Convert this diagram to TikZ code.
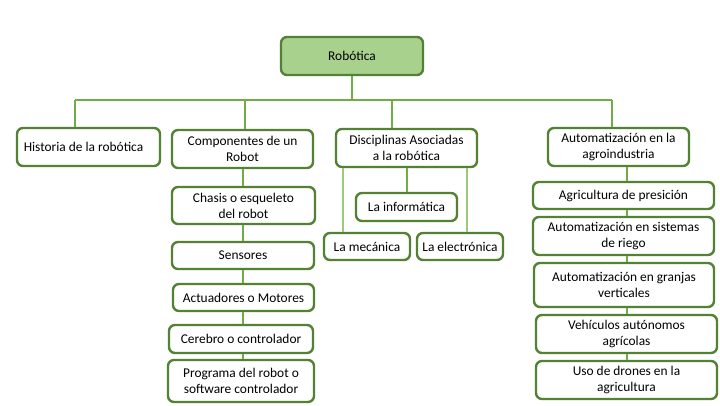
\documentclass[tikz,border=0pt]{standalone}
\usepackage{fontspec}
\setmainfont{Carlito}
\definecolor{bord}{HTML}{548235}
\definecolor{conn}{HTML}{70AD47}
\definecolor{connlt}{HTML}{9BCB7A}
\definecolor{rfill}{HTML}{A9D18E}
\tikzset{
  box/.style={draw=bord, line width=2.4pt, rounded corners=6pt, fill=white, align=center,
    inner sep=0pt, font=\fontsize{13.4}{15.8}\selectfont},
  cline/.style={draw=conn, line width=1.2pt},
  clinelt/.style={draw=connlt, line width=1.2pt}
}
\newcommand{\bx}[6]{% name, x1, y1, x2, y2, text
  \node[box, minimum width={#4-#2}, minimum height={#5-#3}] (#1) at ({(#2+#4)/2},{(#3+#5)/2}) {#6};}
\begin{document}
\begin{tikzpicture}[x=1pt,y=-1pt]
\useasboundingbox (0,0) rectangle (720,405);
\coordinate (bl) at (75,100);
\coordinate (br) at (612,100);
\coordinate (rb) at (352,100);
\coordinate (c2) at (245,100);
\coordinate (c3) at (392,100);
\coordinate (vx) at (243,0);
\coordinate (ax) at (627,0);
\coordinate (m1) at (343,0);
\coordinate (m2) at (407,0);
\coordinate (m3) at (467,0);

\node[box, fill=rfill, minimum width=142, minimum height=38] (rob) at (352,56) {Robótica};
\bx{hist}{17}{128}{160}{166}{Historia de la robótica\kern10pt}
\bx{comp}{172}{130}{313}{168}{Componentes de un\\Robot}
\bx{disc}{336}{129}{477}{167}{Disciplinas Asociadas\\a la robótica}
\bx{agro}{548}{128}{689}{166}{Automatización en la\\agroindustria}

\bx{chas}{172}{187}{315}{224}{Chasis o esqueleto\\del robot}
\bx{sens}{172}{242}{314}{269}{Sensores}
\bx{actu}{173}{284}{314}{311}{Actuadores o Motores}
\bx{cere}{169}{325}{313}{353}{Cerebro o controlador}
\bx{prog}{168}{360}{314}{402}{Programa del robot o\\software controlador}

\bx{info}{356}{193}{457}{221}{La informática}
\bx{meca}{324}{233}{410}{260}{La mecánica}
\bx{elec}{417}{233}{503}{260}{La electrónica}

\bx{agri}{533}{182}{714}{209}{Agricultura de presición}
\bx{rieg}{533}{217}{714}{255}{Automatización en sistemas\\de riego}
\bx{gran}{534}{263}{714}{307}{Automatización en granjas\\verticales}
\bx{vehi}{536}{315}{717}{353}{Vehículos autónomos\\agrícolas}
\bx{dron}{536}{361}{717}{399}{Uso de drones en la\\agricultura}

% tree connectors
\draw[cline] (rob.south) -- (rb);
\draw[cline] (bl) -- (br);
\draw[cline] (bl) -- (bl |- hist.north);
\draw[cline] (c2) -- (c2 |- comp.north);
\draw[cline] (c3) -- (c3 |- disc.north);
\draw[cline] (br) -- (br |- agro.north);
% components chain
\draw[cline] (vx |- comp.south) -- (vx |- chas.north);
\draw[cline] (vx |- chas.south) -- (vx |- sens.north);
\draw[cline] (vx |- sens.south) -- (vx |- actu.north);
\draw[cline] (vx |- actu.south) -- (vx |- cere.north);
\draw[cline] (vx |- cere.south) -- (vx |- prog.north);
% disciplines
\draw[clinelt] (m1 |- disc.south) -- (m1 |- meca.north);
\draw[cline] (m2 |- disc.south) -- (m2 |- info.north);
\draw[clinelt] (m3 |- disc.south) -- (m3 |- elec.north);
% agro chain
\draw[cline] (ax |- agro.south) -- (ax |- agri.north);
\draw[cline] (ax |- agri.south) -- (ax |- rieg.north);
\draw[cline] (ax |- rieg.south) -- (ax |- gran.north);
\draw[cline] (ax |- gran.south) -- (ax |- vehi.north);
\draw[cline] (ax |- vehi.south) -- (ax |- dron.north);
\end{tikzpicture}
\end{document}
